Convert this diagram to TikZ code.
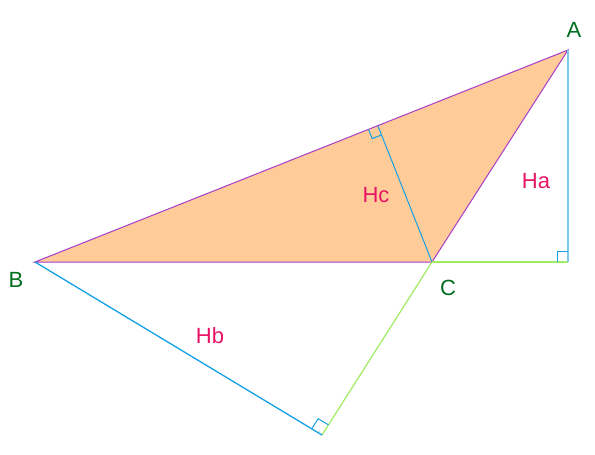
\documentclass[tikz,border=0pt]{standalone}
\usepackage{fontspec}
\setmainfont{Liberation Sans}
\definecolor{triFill}  {RGB}{255, 204, 153}
\definecolor{triEdge}  {RGB}{170,  60, 200}
\definecolor{altBlue}  {RGB}{ 20, 160, 230}
\definecolor{altSky}   {RGB}{120, 200, 240}
\definecolor{extGreen} {RGB}{160, 235, 100}
\definecolor{lblPink}  {RGB}{230,  20, 100}
\definecolor{lblGreen} {RGB}{  0, 110,  30}
\usepackage{tikz}
\usetikzlibrary{calc}

\begin{document}
\begin{tikzpicture}[
  x=1pt, y=-1pt,
  vertex/.style={text=lblGreen, font=\fontsize{22}{26}\selectfont},
  altlabel/.style={text=lblPink, font=\fontsize{22}{26}\selectfont},
  edge/.style={draw=triEdge, line width=1pt},
  extension/.style={draw=extGreen, line width=1.2pt},
  rightmark/.style={draw=altBlue, line width=1pt},
]
  % Canvas: 1pt = 1px, y runs down
  \useasboundingbox (0,0) rectangle (595,455);

  % Vertices and feet of the altitudes
  \coordinate (A) at (568,50);
  \coordinate (B) at (35,262);
  \coordinate (C) at (432,262);
  \coordinate (Fa) at (568,262);
  \coordinate (Fb) at (322,435);
  \coordinate (Fc) at ($(A)!(C)!(B)$);

  % Triangle fill
  \fill[triFill] (A) -- (B) -- (C) -- cycle;

  % Altitude from C
  \draw[altBlue, line width=1pt] (C) -- (Fc);

  % Triangle sides
  \draw[edge] (A) -- (B) -- (C) -- cycle;

  % Extended sides
  \draw[extension] (C) -- (Fa);
  \draw[extension] (C) -- (Fb);

  % Altitudes from A and B
  \draw[altSky, line width=2pt] (A) -- (Fa);
  \draw[altBlue, line width=1.3pt] (B) -- (Fb);

  % Right-angle marks
  \draw[rightmark] ($(Fa)!11pt!(C)$) -- ($($(Fa)!11pt!(C)$)+($(Fa)!11pt!(A)$)-(Fa)$) -- ($(Fa)!11pt!(A)$);
  \draw[rightmark] ($(Fb)!12pt!(B)$) -- ($($(Fb)!12pt!(B)$)+($(Fb)!12pt!(C)$)-(Fb)$) -- ($(Fb)!12pt!(C)$);
  \draw[rightmark] ($(Fc)!10pt!(B)$) -- ($($(Fc)!10pt!(B)$)+($(Fc)!10pt!(C)$)-(Fc)$) -- ($(Fc)!10pt!(C)$);

  % Vertex labels
  \node[vertex] (lblA) at (574,30) {A};
  \node[vertex] (lblB) at (16,280) {B};
  \node[vertex] (lblC) at (448,288) {C};

  % Altitude labels
  \node[altlabel] (lblHa) at (536,181) {Ha};
  \node[altlabel] (lblHb) at (210,336) {Hb};
  \node[altlabel] (lblHc) at (376,195) {Hc};
\end{tikzpicture}
\end{document}
